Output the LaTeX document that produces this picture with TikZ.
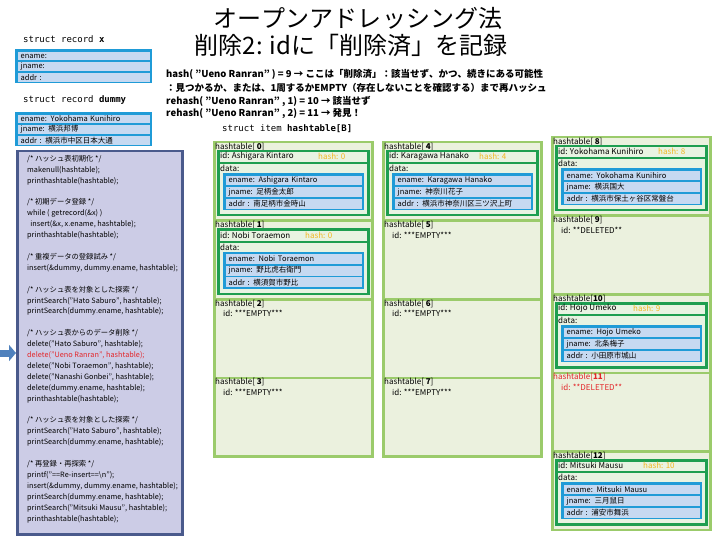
\documentclass[tikz,border=0pt]{standalone}
\usepackage{fontspec}
\setmainfont{Noto Sans CJK JP}[Kerning=Off]
\setmonofont{DejaVu Sans Mono}
\usetikzlibrary{arrows.meta,positioning,calc}

\definecolor{slotline}{HTML}{9BCB6B}
\definecolor{slotbg}{HTML}{EBF1DE}
\definecolor{itemgreen}{HTML}{1E9E50}
\definecolor{itembg}{HTML}{E8F3E2}
\definecolor{recblue}{HTML}{1F9BD7}
\definecolor{rowblue}{HTML}{C6D9F1}
\definecolor{hashgold}{HTML}{F2B61E}
\definecolor{panelbg}{HTML}{CCCCE6}
\definecolor{panelline}{HTML}{4A5A8C}
\definecolor{arrowblue}{HTML}{4F81BD}
\definecolor{delred}{HTML}{E3262A}

\tikzset{
  slot/.style={draw=slotline, line width=2.5pt, fill=slotbg, anchor=north west, minimum width=158pt, minimum height=78.5pt, inner sep=0pt},
  itembox/.style={draw=itemgreen, line width=2.5pt, fill=itembg, anchor=north west, minimum width=150pt, minimum height=64pt, inner sep=0pt},
  recbox/.style={fill=recblue, anchor=north west, inner sep=0pt},
  recrow/.style={fill=rowblue, anchor=north west, inner xsep=3pt, inner ysep=0pt, align=left, font=\fontsize{7.5}{8}\selectfont},
  slottxt/.style={anchor=west, inner sep=0pt, font=\fontsize{8}{9}\selectfont},
  monotxt/.style={anchor=west, inner sep=0pt, font=\ttfamily\fontsize{9}{10}\selectfont},
  hashline/.style={anchor=west, inner sep=0pt, font=\bfseries\fontsize{9.5}{12}\selectfont}
}

% one used slot of the table: name, position, index, id, hash offset, hash, jname, addr
\newcommand{\fullslot}[8]{%
  \node[slot] (#1) at #2 {};
  \node[slottxt] (#1-lbl) at ($(#1.north west)+(2,5.5)$) {hashtable[#3]};
  \node[itembox] (#1-item) at ($(#1.north west)+(4,9)$) {};
  \draw[itemgreen, line width=2pt] ($(#1-item.north west)+(0,13)$) -- ($(#1-item.north east)+(0,13)$);
  \node[slottxt] (#1-id) at ($(#1.north west)+(7,15.5)$) {id: #4};
  \node[slottxt, text=hashgold] (#1-hash) at ($(#1.north west)+(#5,15.5)$) {hash: #6};
  \node[slottxt] (#1-data) at ($(#1.north west)+(7,27.5)$) {data:};
  \node[recbox, minimum width=141pt, minimum height=37pt] (#1-rec) at ($(#1.north west)+(10,32)$) {};
  \node[recrow, text width=130pt, minimum height=9.7pt] (#1-en) at ($(#1-rec.north west)+(2.5,2.5)$) {ename: #4};
  \node[recrow, text width=130pt, minimum height=9.7pt] (#1-jn) at ($(#1-en.south west)+(0,1.5)$) {jname: #7};
  \node[recrow, text width=130pt, minimum height=9.7pt] (#1-ad) at ($(#1-jn.south west)+(0,1.5)$) {addr : #8};
}

% an empty or deleted slot: name, position, index, id text, colour
\newcommand{\voidslot}[5]{%
  \node[slot] (#1) at #2 {};
  \node[slottxt, text=#5] (#1-lbl) at ($(#1.north west)+(2,5.5)$) {hashtable[#3]};
  \node[slottxt, text=#5] (#1-id) at ($(#1.north west)+(10,15.5)$) {id: #4};
}

\begin{document}
\begin{tikzpicture}[x=1pt, y=-1pt]
\useasboundingbox[fill=white] (0,0) rectangle (720,540);

% title
\node[font=\fontsize{24}{26}\selectfont\addfontfeatures{LetterSpace=0.1}] (title1) at (358,18) {オープンアドレッシング法};
\node[font=\fontsize{24}{26}\selectfont] (title2) at (351,45) {削除2: idに「削除済」を記録};

% what happens for "Ueno Ranran"
\node[hashline] (h1) at (166,74) {hash( "Ueno Ranran" ) = 9 → ここは「削除済」：該当せず、かつ、続きにある可能性};
\node[hashline] (h2) at (166,87.5) {：見つかるか、または、1周するかEMPTY（存在しないことを確認する）まで再ハッシュ};
\node[hashline] (h3) at (166,101) {rehash( "Ueno Ranran" , 1) = 10 → 該当せず};
\node[hashline] (h4) at (166,114) {rehash( "Ueno Ranran" , 2) = 11 → 発見！};

% records
\node[monotxt] (xtitle) at (23,39) {struct record \textbf{x}};
\node[recbox, minimum width=137pt, minimum height=34pt] (recx) at (15,49) {};
\node[recrow, text width=126pt, minimum height=8.7pt] (recx-en) at ($(recx.north west)+(2.5,2.5)$) {ename:};
\node[recrow, text width=126pt, minimum height=8.7pt] (recx-jn) at ($(recx-en.south west)+(0,1.5)$) {jname:};
\node[recrow, text width=126pt, minimum height=8.7pt] (recx-ad) at ($(recx-jn.south west)+(0,1.5)$) {addr :};

\node[monotxt] (dtitle) at (23,100) {struct record \textbf{dummy}};
\node[recbox, minimum width=137pt, minimum height=34pt] (recd) at (15,112) {};
\node[recrow, text width=126pt, minimum height=8.7pt] (recd-en) at ($(recd.north west)+(2.5,2.5)$) {ename: Yokohama Kunihiro};
\node[recrow, text width=126pt, minimum height=8.7pt] (recd-jn) at ($(recd-en.south west)+(0,1.5)$) {jname: 横浜邦博};
\node[recrow, text width=126pt, minimum height=8.7pt] (recd-ad) at ($(recd-jn.south west)+(0,1.5)$) {addr : 横浜市中区日本大通};

% main program
\node[draw=panelline, line width=2.5pt, fill=panelbg, anchor=north west, minimum width=165pt, minimum height=383pt, inner sep=0pt] (panel) at (16,150) {};
\node[anchor=north west, inner sep=0pt, align=left, font=\fontsize{7.3}{10.9}\selectfont] (code) at (27,155) {%
/* ハッシュ表初期化 */\\
makenull(hashtable);\\
printhashtable(hashtable);\\[10.9pt]
/* 初期データ登録 */\\
while ( getrecord(\&x) )\\
\ \ insert(\&x, x.ename, hashtable);\\
printhashtable(hashtable);\\[10.9pt]
/* 重複データの登録試み */\\
insert(\&dummy, dummy.ename, hashtable);\\[10.9pt]
/* ハッシュ表を対象とした探索 */\\
printSearch("Hato Saburo", hashtable);\\
printSearch(dummy.ename, hashtable);\\[10.9pt]
/* ハッシュ表からのデータ削除 */\\
delete("Hato Saburo", hashtable);\\
\textcolor{delred}{delete("Ueno Ranran", hashtable);}\\
delete("Nobi Toraemon", hashtable);\\
delete("Nanashi Gonbei", hashtable);\\
delete(dummy.ename, hashtable);\\
printhashtable(hashtable);\\[10.9pt]
/* ハッシュ表を対象とした探索 */\\
printSearch("Hato Saburo", hashtable);\\
printSearch(dummy.ename, hashtable);\\[10.9pt]
/* 再登録・再探索 */\\
printf("==Re-insert==\textbackslash n");\\
insert(\&dummy, dummy.ename, hashtable);\\
printSearch(dummy.ename, hashtable);\\
printSearch("Mitsuki Mausu", hashtable);\\
printhashtable(hashtable);};

\coordinate (arrtail) at (0,353);
\draw[-{Triangle[length=7pt,width=16pt]}, line width=7pt, arrowblue] (arrtail) -- (arrtail -| panel.west);

% the hash table
\node[monotxt] (tabtitle) at (222,129) {struct item \textbf{hashtable[B]}};

\fullslot{s0}{(213,141)}{ \textbf{0}}{Ashigara Kintaro}{105}{0}{足柄金太郎}{南足柄市金時山}
\fullslot{s1}{(213,219.5)}{ \textbf{1}}{Nobi Toraemon}{92}{0}{野比虎右衛門}{横須賀市野比}
\voidslot{s2}{(213,298)}{ \textbf{2}}{***EMPTY***}{black}
\voidslot{s3}{(213,376.5)}{ \textbf{3}}{***EMPTY***}{black}

\fullslot{s4}{(382,141)}{ \textbf{4}}{Karagawa Hanako}{97}{4}{神奈川花子}{横浜市神奈川区三ツ沢上町}
\voidslot{s5}{(382,219.5)}{ \textbf{5}}{***EMPTY***}{black}
\voidslot{s6}{(382,298)}{ \textbf{6}}{***EMPTY***}{black}
\voidslot{s7}{(382,376.5)}{ \textbf{7}}{***EMPTY***}{black}

\fullslot{s8}{(551,136)}{ \textbf{8}}{Yokohama Kunihiro}{107}{8}{横浜国大}{横浜市保土ヶ谷区常盤台}
\voidslot{s9}{(551,214.5)}{ \textbf{9}}{**DELETED**}{black}
\fullslot{s10}{(551,293)}{\textbf{10}}{Hojo Umeko}{82}{9}{北条梅子}{小田原市城山}
\voidslot{s11}{(551,371.5)}{\textbf{11}}{**DELETED**}{delred}
\fullslot{s12}{(551,450)}{\textbf{12}}{Mitsuki Mausu}{92}{10}{三月鼠日}{浦安市舞浜}
\end{tikzpicture}
\end{document}
